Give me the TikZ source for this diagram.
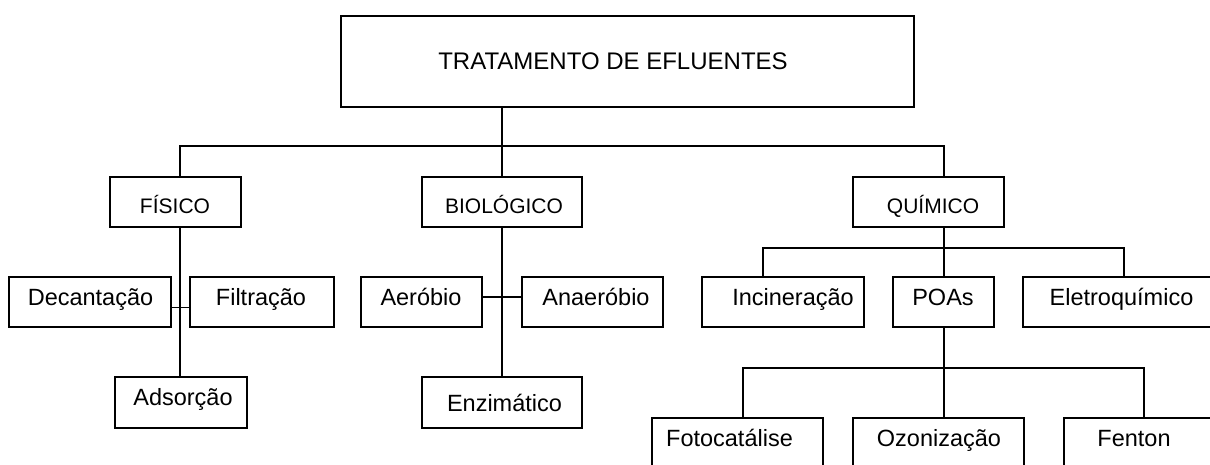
\documentclass[tikz,border=0pt]{standalone}
\usepackage{fontspec}
\setmainfont{Liberation Sans}
\begin{document}
\begin{tikzpicture}[x=1pt,y=-1pt,
  box/.style={draw=black,line width=1.5pt,inner sep=0pt,outer sep=0pt,rectangle},
  lbl/.style={anchor=base,inner sep=0pt,font=\fontsize{23.5}{26}\selectfont},
  cat/.style={anchor=base,inner sep=0pt,font=\fontsize{21}{24}\selectfont},
  conn/.style={draw=black,line width=1.5pt,line join=miter}]
\useasboundingbox (0,0) rectangle (1210,464);
\clip (0,0) rectangle (1210,464);
% boxes
\node[box,minimum width=573pt,minimum height=91pt] (main) at (627.5,61.5) {};
\node[box,minimum width=131pt,minimum height=50pt] (fis) at (175.5,202) {};
\node[box,minimum width=160pt,minimum height=50pt] (bio) at (502,202) {};
\node[box,minimum width=151pt,minimum height=50pt] (qui) at (928.5,202) {};
\node[box,minimum width=162pt,minimum height=50pt] (dec) at (90,302) {};
\node[box,minimum width=144pt,minimum height=50pt] (fil) at (262,302) {};
\node[box,minimum width=121pt,minimum height=50pt] (aer) at (421.5,302) {};
\node[box,minimum width=141pt,minimum height=50pt] (ana) at (592.5,302) {};
\node[box,minimum width=132pt,minimum height=51pt] (ads) at (181,402.5) {};
\node[box,minimum width=160pt,minimum height=51pt] (enz) at (502,402.5) {};
\node[box,minimum width=162pt,minimum height=50pt] (inc) at (783,302) {};
\node[box,minimum width=101pt,minimum height=50pt] (poa) at (943.5,302) {};
\node[box,minimum width=202pt,minimum height=50pt] (ele) at (1124,302) {};
\node[box,minimum width=171pt,minimum height=52pt] (foto) at (737.5,444) {};
\node[box,minimum width=171pt,minimum height=52pt] (ozo) at (938.5,444) {};
\node[box,minimum width=171pt,minimum height=52pt] (fen) at (1149.5,444) {};
% texts
\node[anchor=base,inner sep=0pt,font=\fontsize{24}{28}\selectfont] (maint) at (613,69) {TRATAMENTO DE EFLUENTES};
\node[cat] (fist) at (175,213) {FÍSICO};
\node[cat] (biot) at (504,213) {BIOLÓGICO};
\node[cat] (quit) at (933,213) {QUÍMICO};
\node[lbl] (dect) at (90.5,305.5) {Decantação};
\node[lbl] (filt) at (261,305.5) {Filtração};
\node[lbl] (aert) at (421,305.5) {Aeróbio};
\node[lbl] (anat) at (596,305.5) {Anaeróbio};
\node[lbl] (adst) at (183,405) {Adsorção};
\node[lbl] (enzt) at (504.5,411) {Enzimático};
\node[lbl] (inct) at (793,305.5) {Incineração};
\node[lbl] (poat) at (943,305.5) {POAs};
\node[lbl] (elet) at (1121.5,305.5) {Eletroquímico};
\node[lbl] (fotot) at (729.5,446.5) {Fotocatálise};
\node[lbl] (ozot) at (939,446.5) {Ozonização};
\node[lbl] (fent) at (1134,446.5) {Fenton};
% connector points
\coordinate (b0) at (502,146);
\coordinate (bl) at (180,146);
\coordinate (br) at (944,146);
\coordinate (fj) at (180,307.7);
\coordinate (bj) at (502,297);
\coordinate (ql) at (763,248);
\coordinate (qr) at (1124,248);
\coordinate (pl) at (743,368);
\coordinate (pm) at (944,368);
\coordinate (pr) at (1144,368);
% connectors
\draw[conn] (main.south -| b0) -- (b0);
\draw[conn] (fis.north -| bl) -- (bl) -- (br) -- (qui.north -| br);
\draw[conn] (b0) -- (bio.north);
\draw[conn] (fis.south -| bl) -- (ads.north -| bl);
\draw[conn] (dec.east |- fj) -- (fil.west |- fj);
\draw[conn] (bio.south) -- (enz.north);
\draw[conn] (aer.east |- bj) -- (ana.west |- bj);
\draw[conn] (qui.south -| br) -- (poa.north -| br);
\draw[conn] (inc.north -| ql) -- (ql) -- (qr) -- (ele.north -| qr);
\draw[conn] (poa.south -| pm) -- (pm);
\draw[conn] (foto.north -| pl) -- (pl) -- (pr) -- (fen.north -| pr);
\draw[conn] (pm) -- (ozo.north -| pm);
\end{tikzpicture}
\end{document}
